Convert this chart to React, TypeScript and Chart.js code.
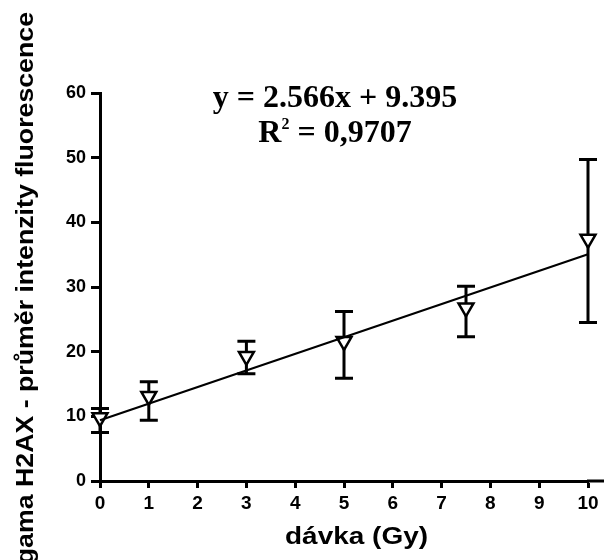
import React, { useEffect, useRef } from "react";
import { Chart, registerables } from "chart.js";

Chart.register(...registerables);

// Dose (Gy)
const doses = [0, 1, 3, 5, 7.5, 10];
// Mean gamma H2AX fluorescence intensity
const means = [9.8, 13.1, 19.3, 21.6, 26.8, 37.4];
// Error bar ends
const errHigh = [11.2, 15.35, 21.6, 26.2, 30.1, 49.7];
const errLow = [7.5, 9.4, 16.6, 15.9, 22.3, 24.5];
// Linear fit
const slope = 2.566;
const intercept = 9.395;
const fitRange = [0, 10];
// Tick settings
const xTicks = [0, 1, 2, 3, 4, 5, 6, 7, 8, 9, 10];
const yTicks = [0, 10, 20, 30, 40, 50, 60];

const eqLine1 = "y = 2.566x + 9.395";
const eqLine2a = "R";
const eqLine2sup = "2";
const eqLine2b = " = 0,9707";
const xTitle = "dávka (Gy)";
const yTitle = "gama H2AX - průměr intenzity fluorescence";
const yTitleTail = "H2AX - průměr intenzity fluorescence";

const SANS = '"Liberation Sans", Arial, sans-serif';
const SERIF = '"Liberation Serif", "Times New Roman", serif';

const overlay = {
  id: "overlay",
  beforeDatasetsDraw(chart: any) {
    const { ctx } = chart;
    const x = chart.scales.x;
    const y = chart.scales.y;
    ctx.save();
    ctx.strokeStyle = "#000";
    ctx.lineWidth = 3;
    ctx.lineCap = "butt";
    doses.forEach((d, i) => {
      const px = x.getPixelForValue(d);
      const top = y.getPixelForValue(errHigh[i]);
      const bot = y.getPixelForValue(errLow[i]);
      ctx.beginPath();
      ctx.moveTo(px, top);
      ctx.lineTo(px, bot);
      ctx.moveTo(px - 9, top);
      ctx.lineTo(px + 9, top);
      ctx.moveTo(px - 9, bot);
      ctx.lineTo(px + 9, bot);
      ctx.stroke();
    });
    ctx.restore();
  },
  afterDraw(chart: any) {
    const { ctx, chartArea } = chart;
    ctx.save();
    ctx.fillStyle = "#000";
    ctx.strokeStyle = "#000";

    // extend x axis line to the right edge
    ctx.lineWidth = 3;
    ctx.beginPath();
    ctx.moveTo(chartArea.right - 1, chartArea.bottom);
    ctx.lineTo(chart.width, chartArea.bottom);
    ctx.stroke();

    // equation
    const cx = chartArea.left + 235;
    ctx.textAlign = "center";
    ctx.textBaseline = "alphabetic";
    ctx.font = `bold 32px ${SERIF}`;
    ctx.fillText(eqLine1, cx, chartArea.top + 13.5);

    ctx.textAlign = "left";
    ctx.font = `bold 32px ${SERIF}`;
    const wR = ctx.measureText(eqLine2a).width;
    const wB = ctx.measureText(eqLine2b).width;
    ctx.font = `bold 16px ${SERIF}`;
    const wS = ctx.measureText(eqLine2sup).width;
    const total = wR + wS + wB;
    let sx = cx - total / 2;
    const by = chartArea.top + 48.5;
    ctx.font = `bold 32px ${SERIF}`;
    ctx.fillText(eqLine2a, sx, by);
    sx += wR;
    ctx.font = `bold 16px ${SERIF}`;
    ctx.fillText(eqLine2sup, sx, by - 13);
    sx += wS;
    ctx.font = `bold 32px ${SERIF}`;
    ctx.fillText(eqLine2b, sx, by);

    // x title
    ctx.save();
    ctx.font = `bold 24px ${SANS}`;
    ctx.textAlign = "left";
    const xw = ctx.measureText(xTitle).width;
    const xs = 143 / xw;
    ctx.translate(chartArea.left + 185, chart.height - 16);
    ctx.scale(xs, 1);
    ctx.fillText(xTitle, 0, 0);
    ctx.restore();

    // y title
    ctx.save();
    ctx.font = `bold 24px ${SANS}`;
    ctx.textAlign = "right";
    const yw = ctx.measureText(yTitleTail).width;
    const ys = 475 / yw;
    ctx.translate(32.5, 12);
    ctx.rotate(-Math.PI / 2);
    ctx.scale(ys, 1);
    ctx.fillText(yTitle, 0, 0);
    ctx.restore();

    ctx.restore();
  },
};

export default function App() {
  const ref = useRef<HTMLCanvasElement | null>(null);

  useEffect(() => {
    document.body.style.margin = "0";
    const canvas = ref.current;
    if (!canvas) return;
    const chart = new Chart(canvas, {
      type: "scatter",
      data: {
        datasets: [
          {
            type: "line",
            data: fitRange.map((v) => ({ x: v, y: slope * v + intercept })),
            borderColor: "#000",
            borderWidth: 2.2,
            pointRadius: 0,
            fill: false,
            tension: 0,
            clip: false,
          } as any,
          {
            data: doses.map((d, i) => ({ x: d, y: means[i] })),
            pointStyle: "triangle",
            rotation: 180,
            pointRadius: 8.6,
            pointBackgroundColor: "#fff",
            pointBorderColor: "#000",
            pointBorderWidth: 2.5,
            showLine: false,
            clip: false,
          } as any,
        ],
      },
      options: {
        animation: false,
        responsive: false,
        devicePixelRatio: 1,
        layout: { padding: { top: 93, right: 16, left: 0, bottom: 0 } },
        plugins: {
          legend: { display: false },
          tooltip: { enabled: false },
          title: { display: false },
        },
        scales: {
          x: {
            type: "linear",
            min: 0,
            max: 10,
            afterFit: (s: any) => {
              s.height = 79;
            },
            afterBuildTicks: (s: any) => {
              s.ticks = xTicks.map((v) => ({ value: v }));
            },
            ticks: {
              color: "#000",
              font: { family: SANS, weight: "bold", size: 19 },
              padding: 4,
              maxRotation: 0,
              autoSkip: false,
            },
            grid: {
              drawOnChartArea: false,
              drawTicks: true,
              tickLength: 7,
              tickWidth: 3,
              tickColor: "#000",
            },
            border: { display: true, color: "#000", width: 3 },
          },
          y: {
            type: "linear",
            min: 0,
            max: 60,
            afterFit: (s: any) => {
              s.width = 100;
            },
            afterBuildTicks: (s: any) => {
              s.ticks = yTicks.map((v) => ({ value: v }));
            },
            ticks: {
              color: "#000",
              font: { family: SANS, weight: "bold", size: 18 },
              padding: 5,
              autoSkip: false,
            },
            grid: {
              drawOnChartArea: false,
              drawTicks: true,
              tickLength: 9,
              tickWidth: 3,
              tickColor: "#000",
            },
            border: { display: true, color: "#000", width: 3 },
          },
        },
      },
      plugins: [overlay],
    });
    return () => chart.destroy();
  }, []);

  return (
    <div style={{ width: 604, height: 560 }}>
      <canvas ref={ref} width={604} height={560} style={{ display: "block" }} />
    </div>
  );
}
